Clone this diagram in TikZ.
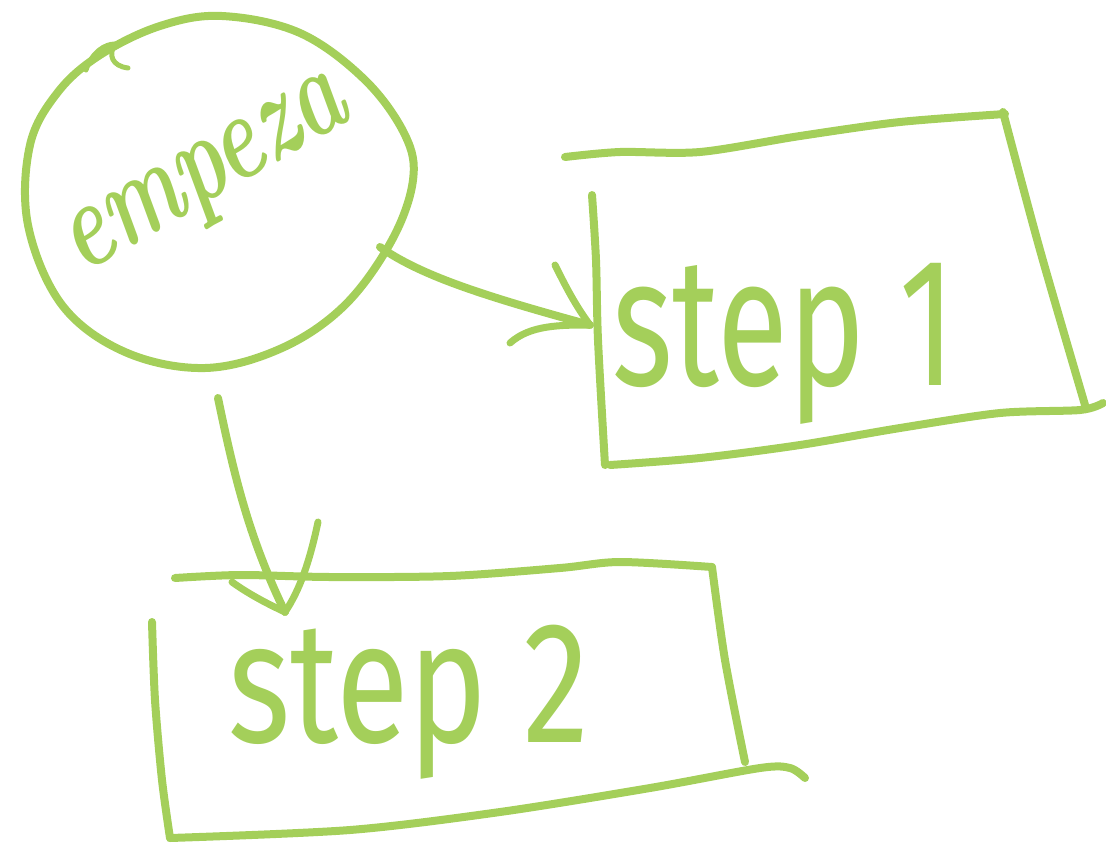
\documentclass[tikz,border=0pt]{standalone}
\usepackage{fontspec}
\setsansfont{Fira Sans}
\definecolor{sketch}{RGB}{164,207,90}
\tikzset{
  sk/.style={draw=sketch, line width=8pt, line cap=round, line join=round},
  barb/.style={draw=sketch, line width=7pt, line cap=round},
  lbl/.style={text=sketch, inner sep=0pt, font=\sffamily\fontsize{126}{126}\selectfont},
}
\begin{document}
\begin{tikzpicture}[x=1pt, y=-1pt]
\useasboundingbox (0,0) rectangle (1106,847);
% circle
\draw[sk] plot[smooth cycle, tension=0.6] coordinates {(222,16) (300,33) (365,80) (405,135) (413,180) (392,240) (345,305) (282,348) (205,368) (125,352) (62,305) (28,225) (30,145) (58,92) (100,55) (160,26)};
\draw[sk, line width=5pt] (86,70) .. controls (92,52) and (105,44) .. (115,44) .. controls (108,55) and (112,66) .. (128,68);
\coordinate (c1) at (380,247);
\coordinate (c2) at (218,398);
\node[text=sketch, rotate=30, inner sep=0pt, font=\bfseries\itshape\fontsize{96}{96}\selectfont] (start) at (210,182) {\scalebox{0.9}[1.3]{empeza}};
% box 1
\coordinate (b1) at (590,325);
\draw[sk] plot[smooth] coordinates {(565,157) (620,152) (700,152) (800,136) (900,122) (1005,114)};
\draw[sk] plot[smooth] coordinates {(1003,112) (1040,250) (1085,405)};
\draw[sk] plot[smooth] coordinates {(1103,403) (1080,410) (1000,413) (900,428) (800,445) (700,458) (610,465)};
\draw[sk] plot[smooth] coordinates {(592,195) (596,260) (598,340) (605,465)};
\node[lbl, anchor=base west] (s1) at (612,385) {\scalebox{1.03}[1.45]{step 1}};
% box 2
\coordinate (b2) at (285,612);
\draw[sk] plot[smooth] coordinates {(175,578) (240,575) (330,577) (450,576) (560,568) (620,562) (712,567)};
\draw[sk] plot[smooth] coordinates {(712,567) (725,660) (745,762)};
\draw[sk] plot[smooth] coordinates {(805,778) (790,768) (760,768) (650,788) (500,812) (350,830) (170,838)};
\draw[sk] plot[smooth] coordinates {(152,622) (155,700) (162,780) (170,838)};
\node[lbl, anchor=base west, font=\sffamily\fontsize{133}{133}\selectfont] (s2) at (228,742) {\scalebox{1}[1.3]{step 2}};
% arrows
\draw[sk] (c1) .. controls (420,275) and (480,295) .. (b1);
\draw[barb] (555,265) .. controls (565,285) and (575,305) .. (b1);
\draw[barb] (510,343) .. controls (530,325) and (560,325) .. (b1);
\draw[sk] (c2) .. controls (235,480) and (250,540) .. (b2);
\draw[barb] (318,522) .. controls (310,560) and (300,590) .. (b2);
\draw[barb] (232,582) .. controls (250,595) and (270,605) .. (b2);
\end{tikzpicture}
\end{document}
